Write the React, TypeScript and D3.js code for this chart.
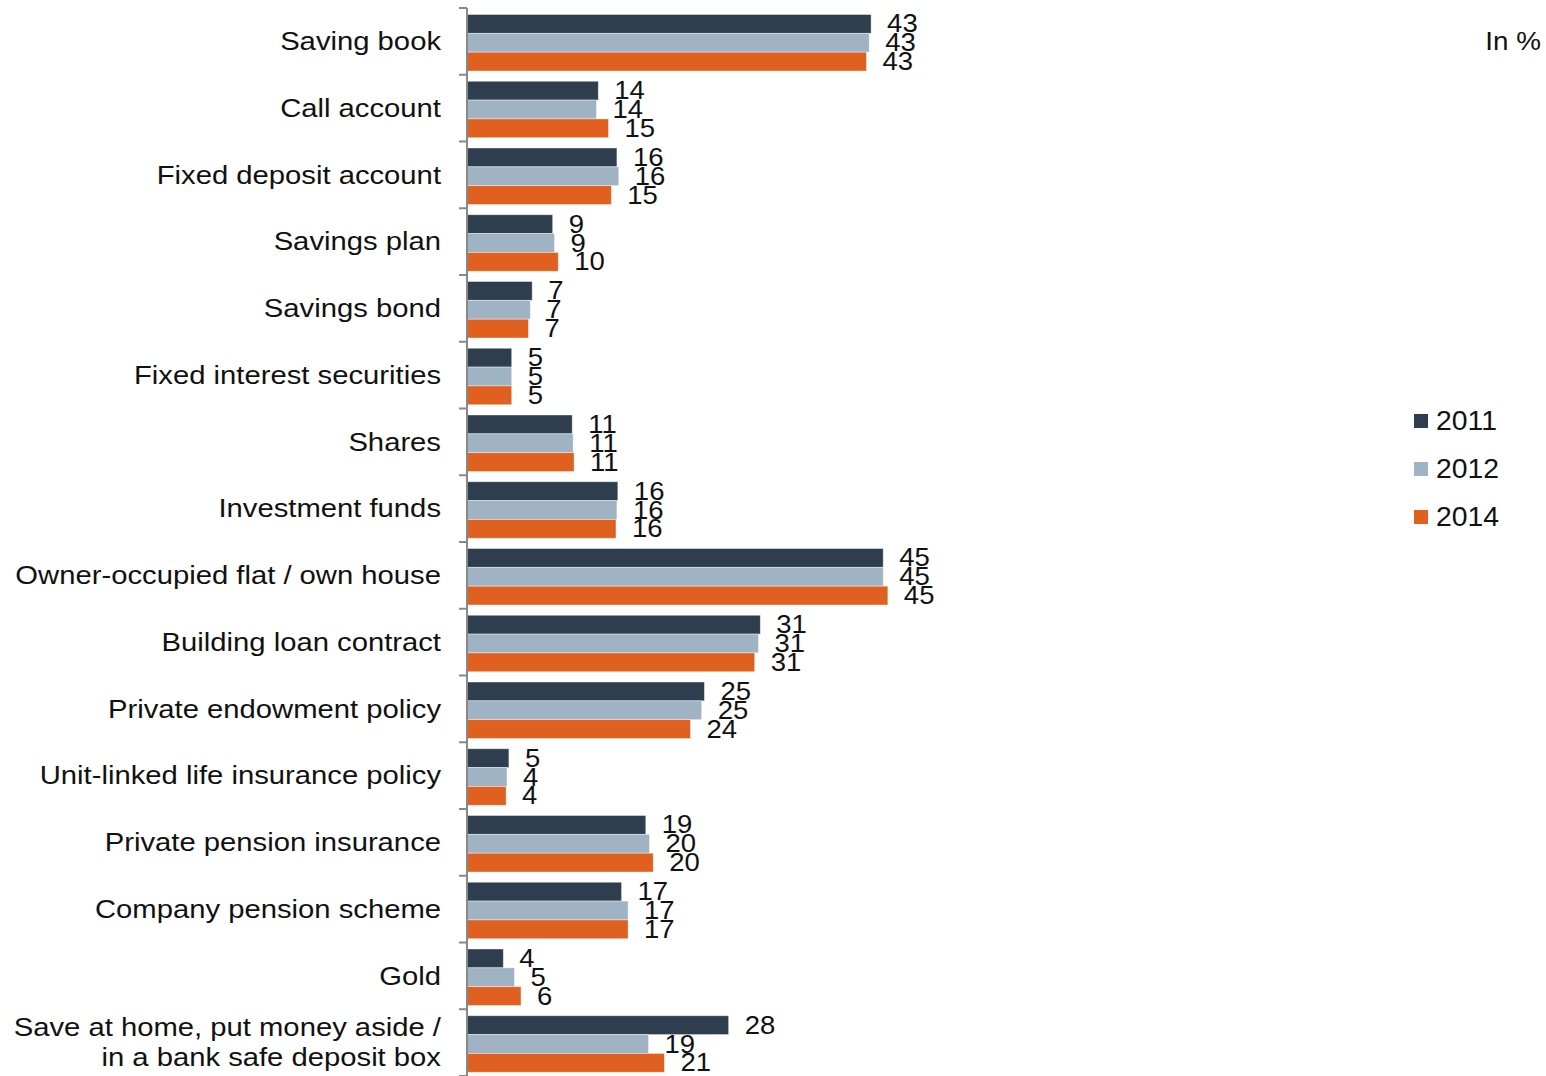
import React from "react";
import * as d3 from "d3";

const categories: string[][] = [
  ["Saving book"],
  ["Call account"],
  ["Fixed deposit account"],
  ["Savings plan"],
  ["Savings bond"],
  ["Fixed interest securities"],
  ["Shares"],
  ["Investment funds"],
  ["Owner-occupied flat / own house"],
  ["Building loan contract"],
  ["Private endowment policy"],
  ["Unit-linked life insurance policy"],
  ["Private pension insurance"],
  ["Company pension scheme"],
  ["Gold"],
  ["Save at home, put money aside /", "in a bank safe deposit box"],
];

const seriesNames = ["2011", "2012", "2014"];
const values2011 = [43.4, 14.1, 16.1, 9.2, 7.0, 4.8, 11.3, 16.2, 44.7, 31.5, 25.5, 4.5, 19.2, 16.6, 3.9, 28.1];
const values2012 = [43.2, 13.9, 16.3, 9.4, 6.8, 4.8, 11.4, 16.1, 44.7, 31.3, 25.2, 4.3, 19.6, 17.3, 5.1, 19.5];
const values2014 = [42.9, 15.2, 15.5, 9.8, 6.6, 4.8, 11.5, 16.0, 45.2, 30.9, 24.0, 4.2, 20.0, 17.3, 5.8, 21.2];
const labels2011 = [43, 14, 16, 9, 7, 5, 11, 16, 45, 31, 25, 5, 19, 17, 4, 28];
const labels2012 = [43, 14, 16, 9, 7, 5, 11, 16, 45, 31, 25, 4, 20, 17, 5, 19];
const labels2014 = [43, 15, 15, 10, 7, 5, 11, 16, 45, 31, 24, 4, 20, 17, 6, 21];

const colors = ["#2F3E4E", "#9FB3C5", "#E06020"];
const FONT = "Liberation Sans, Arial, sans-serif";

export default function App() {
  const W = 1546;
  const H = 1076;
  const axisX = 467;
  const top = 8;
  const bottom = 1076;

  const series = [values2011, values2012, values2014];
  const labels = [labels2011, labels2012, labels2014];

  const y = d3
    .scaleBand<number>()
    .domain(d3.range(categories.length))
    .range([top, bottom])
    .padding(0);
  const step = y.step();
  const y1 = d3.scaleBand<number>().domain([0, 1, 2]).range([6.5, 63]);
  const x = d3.scaleLinear().domain([0, 45]).range([axisX, axisX + 419]);

  const boundaries = d3.range(categories.length + 1).map((i) => top + i * step);

  return (
    <svg
      width={W}
      height={H}
      style={{ position: "absolute", left: 0, top: 0, background: "#fff" }}
      fontFamily={FONT}
    >
      {/* bars */}
      {categories.map((_, ci) => (
        <g key={ci} transform={`translate(0,${y(ci)})`}>
          {series.map((vals, si) => (
            <rect
              key={si}
              x={x(0)}
              y={y1(si)}
              width={x(vals[ci]) - x(0)}
              height={y1.bandwidth()}
              fill={colors[si]}
              stroke="#ffffff"
              strokeOpacity={0.5}
              strokeWidth={0.8}
            />
          ))}
          {series.map((vals, si) => {
            const tx = x(vals[ci]) + 16;
            const ty = (y1(si) as number) + y1.bandwidth() / 2;
            return (
              <text
                key={"l" + si}
                transform={`translate(${tx},${ty}) scale(1.1,1)`}
                fontSize={25}
                dominantBaseline="central"
                fill="#111"
              >
                {labels[si][ci]}
              </text>
            );
          })}
        </g>
      ))}

      {/* axis */}
      <line x1={axisX} x2={axisX} y1={top} y2={bottom} stroke="#888" strokeWidth={2} />
      {boundaries.map((b, i) => (
        <line key={i} x1={axisX - 8} x2={axisX} y1={b} y2={b} stroke="#888" strokeWidth={2} />
      ))}

      {/* category labels */}
      {categories.map((lines, ci) => {
        const cy = top + (ci + 0.5) * step;
        const n = lines.length;
        return lines.map((ln, li) => (
          <text
            key={ci + "-" + li}
            transform={`translate(441,${cy + (li - (n - 1) / 2) * 30}) scale(1.17,1)`}
            fontSize={25}
            textAnchor="end"
            dominantBaseline="central"
            fill="#111"
          >
            {ln}
          </text>
        ));
      })}

      {/* legend */}
      {seriesNames.map((s, i) => (
        <g key={s} transform={`translate(1414,${421 + i * 48})`}>
          <rect x={0} y={-7} width={14} height={14} fill={colors[i]} />
          <text
            transform="translate(22,0) scale(1.05,1)"
            fontSize={27}
            dominantBaseline="central"
            fill="#111"
          >
            {s}
          </text>
        </g>
      ))}

      {/* unit */}
      <text
        transform="translate(1541,41) scale(1.07,1)"
        fontSize={26}
        textAnchor="end"
        dominantBaseline="central"
        fill="#111"
      >
        In %
      </text>
    </svg>
  );
}
